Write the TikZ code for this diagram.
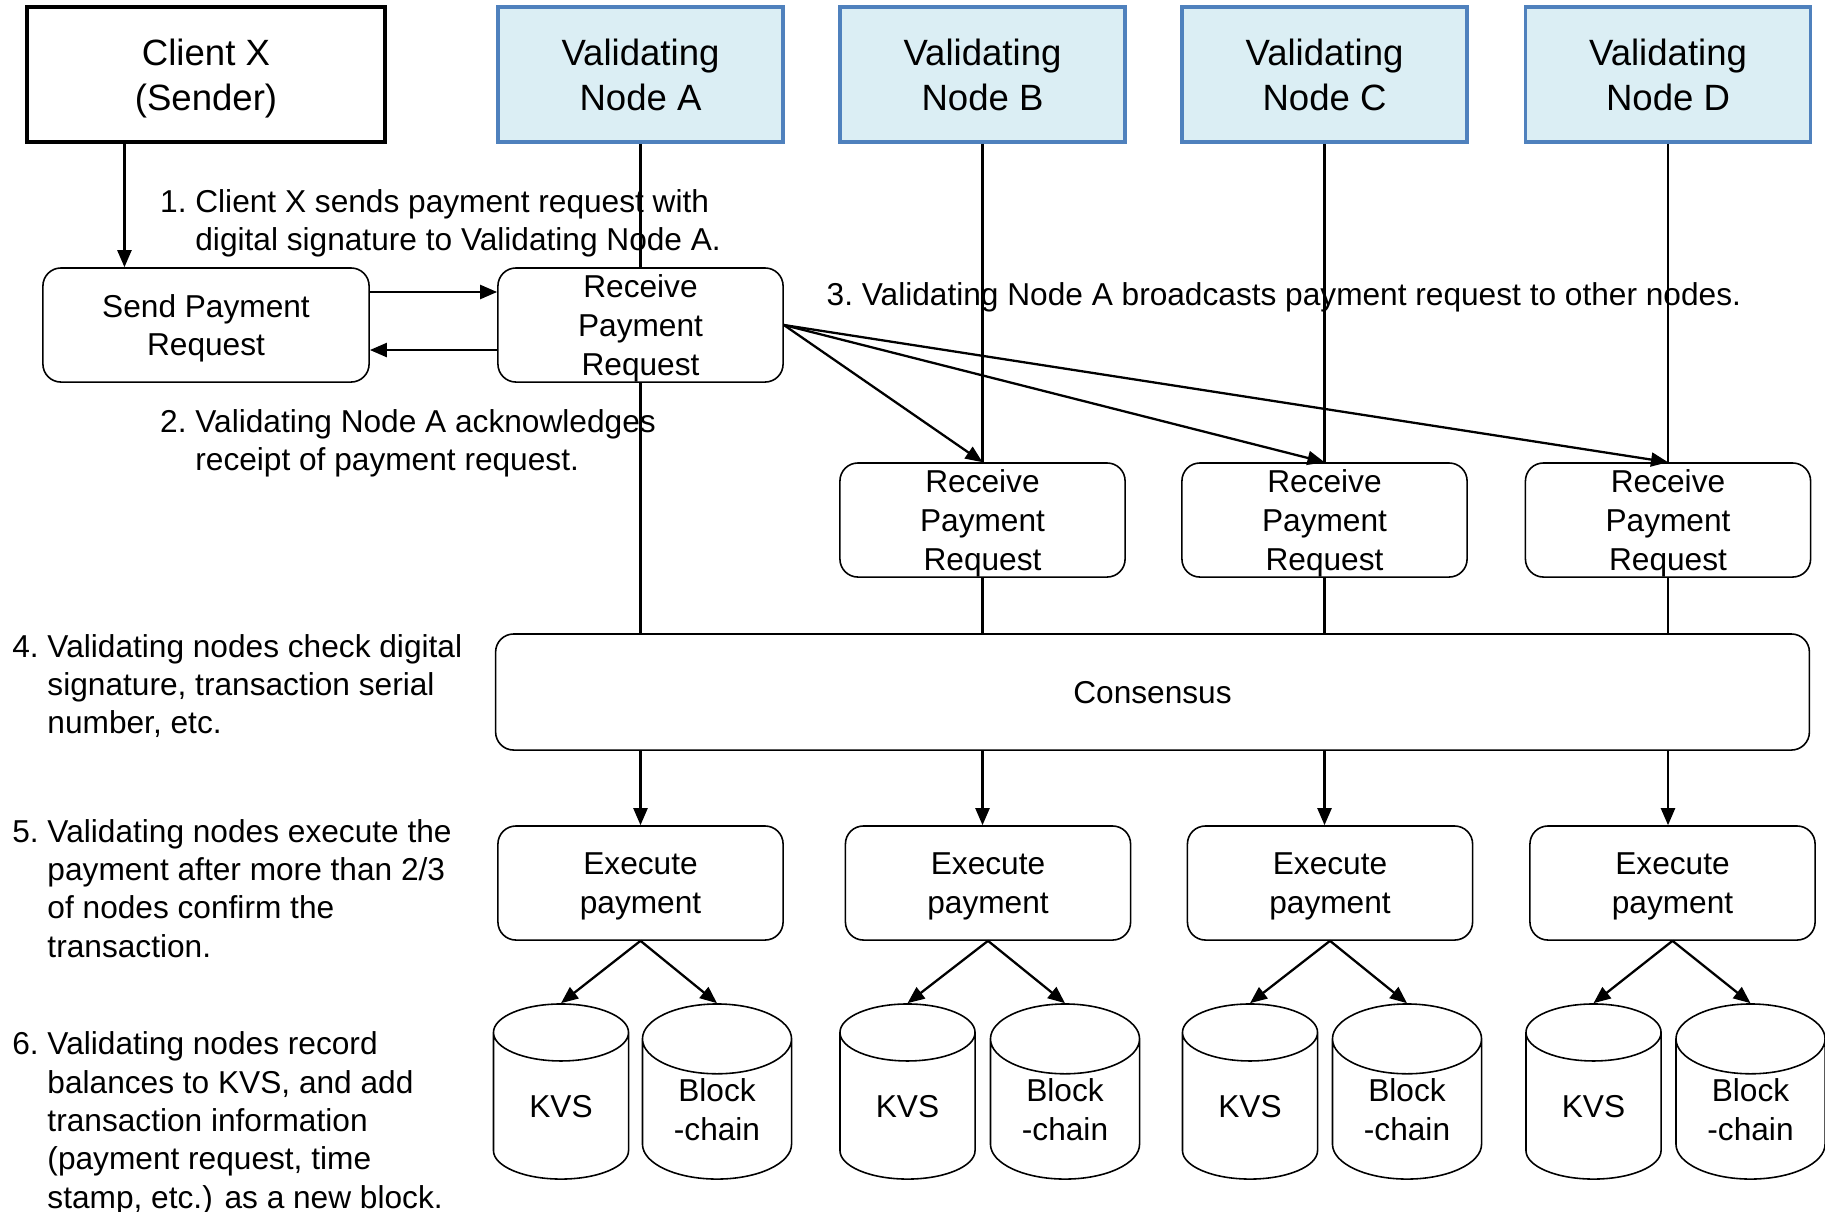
\documentclass[tikz,border=0pt]{standalone}
\usepackage{fontspec}
\setmainfont{Liberation Sans}
\usetikzlibrary{arrows.meta,shapes.geometric}
\definecolor{hdrblue}{RGB}{79,129,189}
\definecolor{hdrfill}{RGB}{219,238,244}
\tikzset{
  box/.style={draw,line width=0.45pt,fill=white,align=center,inner sep=0pt,
    text depth=-1.3pt,font={\fontsize{9}{11}\selectfont}},
  hdr/.style={draw=hdrblue,fill=hdrfill,line width=1pt,align=center,
    minimum width=2.85cm,minimum height=1.35cm,font={\fontsize{10.4}{12.8}\selectfont}},
  client/.style={hdr,draw=black,fill=white,line width=1.3pt,minimum width=3.58cm,text depth=-0.6pt},
  proc/.style={box,rounded corners=0.18cm,minimum width=2.85cm,minimum height=1.14cm},
  db/.style={box,text depth=0pt,cylinder,shape border rotate=90,aspect=0.9,anchor=shape center,
    minimum width=1.35cm,minimum height=1.75cm},
  dbwide/.style={db,aspect=0.81,minimum width=1.49cm},
  note/.style={anchor=base west,align=left,inner sep=0pt,font={\fontsize{9}{10.9}\selectfont}},
  arr/.style={line width=0.65pt,-{Triangle[length=0.17cm,width=0.14cm]}},
  life/.style={line width=0.6pt}
}
\newcommand{\hang}[1]{\hphantom{#1~}}

\begin{document}
\begin{tikzpicture}[x=0.01cm,y=-0.01cm]
  \useasboundingbox (0,0) rectangle (1825,1211);

  % headers
  \node[client] (cx) at (206,74.5) {Client X\\(Sender)};
  \node[hdr] (hdA) at (640.5,74.5) {Validating\\Node A};
  \node[hdr] (hdB) at (982.5,74.5) {Validating\\Node B};
  \node[hdr] (hdC) at (1324.5,74.5) {Validating\\Node C};
  \node[hdr] (hdD) at (1668,74.5) {Validating\\Node D};

  % receive / send
  \node[proc,minimum width=3.26cm] (send) at (206,325) {Send Payment\\Request};
  \node[proc] (recA) at (640.5,325) {Receive\\Payment\\Request};
  \node[proc] (recB) at (982.5,520) {Receive\\Payment\\Request};
  \node[proc] (recC) at (1324.5,520) {Receive\\Payment\\Request};
  \node[proc] (recD) at (1668,520) {Receive\\Payment\\Request};

  \node[proc,minimum width=13.13cm,minimum height=1.16cm] (cons) at (1152.5,692) {Consensus};

  % execute
  \node[proc] (exeA) at (640.5,883) {Execute\\payment};
  \node[proc] (exeB) at (988,883) {Execute\\payment};
  \node[proc] (exeC) at (1330,883) {Execute\\payment};
  \node[proc] (exeD) at (1672.5,883) {Execute\\payment};

  % storage
  \node[db] (kvsA) at (561,1091.5) {KVS};
  \node[dbwide] (bcA) at (717,1091.5) {Block\\-chain};
  \node[db] (kvsB) at (907.5,1091.5) {KVS};
  \node[dbwide] (bcB) at (1065,1091.5) {Block\\-chain};
  \node[db] (kvsC) at (1250,1091.5) {KVS};
  \node[dbwide] (bcC) at (1407,1091.5) {Block\\-chain};
  \node[db] (kvsD) at (1593.5,1091.5) {KVS};
  \node[dbwide] (bcD) at (1750.5,1091.5) {Block\\-chain};

  % lifelines
  \draw[life] (hdA.south) -- (recA.north);
  \draw[life] (recA.south) -- (recA.south |- cons.north);
  \draw[life] (hdB.south) -- (recB.north);
  \draw[life] (recB.south) -- (recB.south |- cons.north);
  \draw[life] (hdC.south) -- (recC.north);
  \draw[life] (recC.south) -- (recC.south |- cons.north);
  \draw[life] (hdD.south) -- (recD.north);
  \draw[life] (recD.south) -- (recD.south |- cons.north);

  % messages
  \draw[arr] ([xshift=-0.815cm]cx.south) -- ([xshift=-0.815cm]send.north);
  \draw[arr] ([yshift=0.33cm]send.east) -- ([yshift=0.33cm]recA.west);
  \draw[arr] ([yshift=-0.25cm]recA.west) -- ([yshift=-0.25cm]send.east);
  \draw[arr] (recA.east) -- (recB.north);
  \draw[arr] (recA.east) -- (recC.north);
  \draw[arr] (recA.east) -- (recD.north);

  \draw[arr] (cons.south -| hdA.south) -- (exeA.north -| hdA.south);
  \draw[arr] (cons.south -| hdB.south) -- (exeB.north -| hdB.south);
  \draw[arr] (cons.south -| hdC.south) -- (exeC.north -| hdC.south);
  \draw[arr] (cons.south -| hdD.south) -- (exeD.north -| hdD.south);

  \draw[arr] (exeA.south) -- (kvsA.north);
  \draw[arr] (exeA.south) -- (bcA.north);
  \draw[arr] (exeB.south) -- (kvsB.north);
  \draw[arr] (exeB.south) -- (bcB.north);
  \draw[arr] (exeC.south) -- (kvsC.north);
  \draw[arr] (exeC.south) -- (bcC.north);
  \draw[arr] (exeD.south) -- (kvsD.north);
  \draw[arr] (exeD.south) -- (bcD.north);

  % step notes (anchored at the baseline of their last line)
  \node[note] (n1) at (159.5,250.4) {1.~Client X sends payment request with\\\hang{1.}digital signature to Validating Node A.};
  \node[note] (n2) at (159.5,470.4) {2.~Validating Node A acknowledges\\\hang{2.}receipt of payment request.};
  \node[note] (n3) at (826,305) {3.~Validating Node A broadcasts payment request to other nodes.};
  \node[note] (n4) at (11.6,733.7) {4.~Validating nodes check digital\\\hang{4.}signature, transaction serial\\\hang{4.}number, etc.};
  \node[note] (n5) at (11.6,957) {5.~Validating nodes execute the\\\hang{5.}payment after more than 2/3\\\hang{5.}of nodes confirm the\\\hang{5.}transaction.};
  \node[note] (n6) at (11.6,1208) {6.~Validating nodes record\\\hang{6.}balances to KVS, and add\\\hang{6.}transaction information\\\hang{6.}(payment request, time\\\hang{6.}stamp, etc.) as a new block.};
\end{tikzpicture}
\end{document}
